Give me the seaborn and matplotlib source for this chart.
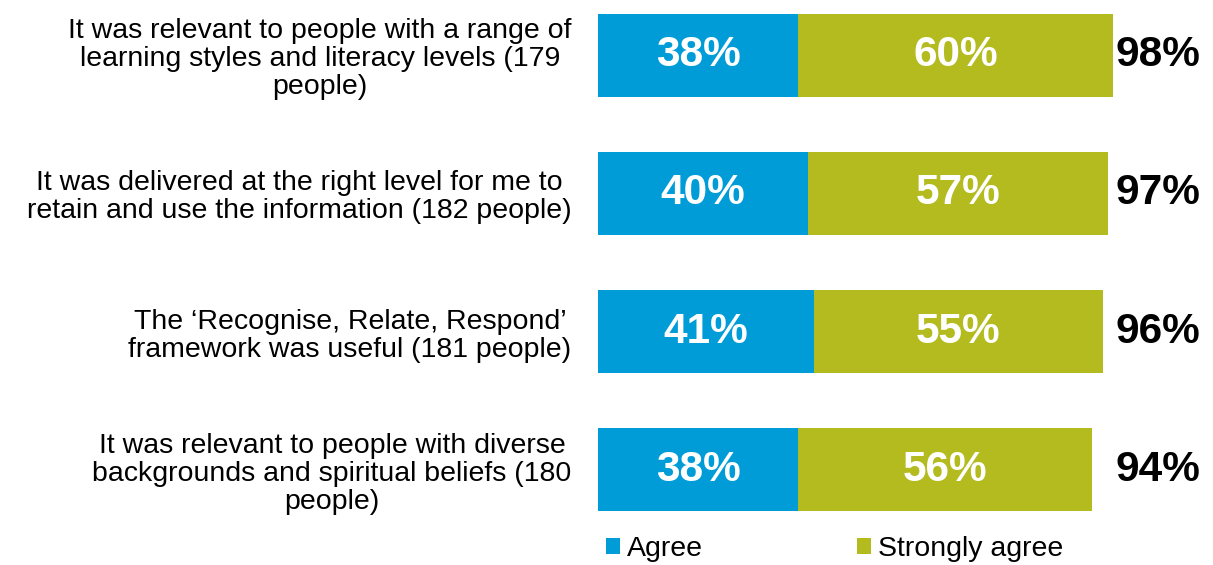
import matplotlib
matplotlib.use("Agg")
import matplotlib.pyplot as plt
import seaborn as sns
import pandas as pd
from matplotlib.patches import Patch

categories = [
    "It was relevant to people with a range of\nlearning styles and literacy levels (179\npeople)",
    "It was delivered at the right level for me to\nretain and use the information (182 people)",
    "The \u2018Recognise, Relate, Respond\u2019\nframework was useful (181 people)",
    "It was relevant to people with diverse\nbackgrounds and spiritual beliefs (180\npeople)",
]
agree = [38, 40, 41, 38]
strongly_agree = [60, 57, 55, 56]
series_names = ["Agree", "Strongly agree"]

BLUE = "#009cd8"
OLIVE = "#b3bb1f"

totals = [a + s for a, s in zip(agree, strongly_agree)]
df = pd.DataFrame({"category": categories, "agree": agree,
                   "strong": strongly_agree, "total": totals})

sns.set_theme(style="white")
plt.rcParams["font.family"] = ["Liberation Sans", "DejaVu Sans"]

fig = plt.figure(figsize=(12.13, 5.65), dpi=100)
ax = fig.add_axes([598 / 1213, 1 - 511 / 565, 526 / 1213, 497 / 565])

# stacked bars: full total in olive, agree share overlaid in blue
sns.barplot(data=df, x="total", y="category", orient="h", color=OLIVE,
            width=0.6, saturation=1, ax=ax, edgecolor="none")
sns.barplot(data=df, x="agree", y="category", orient="h", color=BLUE,
            width=0.6, saturation=1, ax=ax, edgecolor="none")

for i, (a, s, t) in enumerate(zip(agree, strongly_agree, totals)):
    ax.text(a / 2, i, f"{a}%", ha="center", va="center", color="white",
            fontsize=30.5, fontweight="bold")
    ax.text(a + s / 2, i, f"{s}%", ha="center", va="center", color="white",
            fontsize=30.5, fontweight="bold")
    ax.text(106.5, i, f"{t}%", ha="center", va="center", color="black",
            fontsize=30.5, fontweight="bold")

ax.set_xlim(0, 100)
ax.set_ylim(3.3, -0.3)
ax.set_xlabel("")
ax.set_ylabel("")
ax.set_xticks([])
ax.tick_params(axis="y", length=0, pad=19)
for lbl in ax.get_yticklabels():
    lbl.set_fontsize(20.5)
    lbl.set_multialignment("center")
    lbl.set_linespacing(1.1)
    lbl.set_color("black")
for sp in ax.spines.values():
    sp.set_visible(False)

handles = [Patch(facecolor=BLUE, edgecolor="none"),
           Patch(facecolor=OLIVE, edgecolor="none")]
leg = fig.legend(handles, series_names, loc="center left",
                 bbox_to_anchor=(606 / 1213, 1 - 549 / 565), ncol=2,
                 frameon=False, fontsize=20.5, handlelength=0.5,
                 handleheight=0.5, handletextpad=0.25, columnspacing=5.4,
                 borderpad=0, borderaxespad=0)
for txt in leg.get_texts():
    txt.set_color("black")

fig.savefig("out.png", dpi=100)
